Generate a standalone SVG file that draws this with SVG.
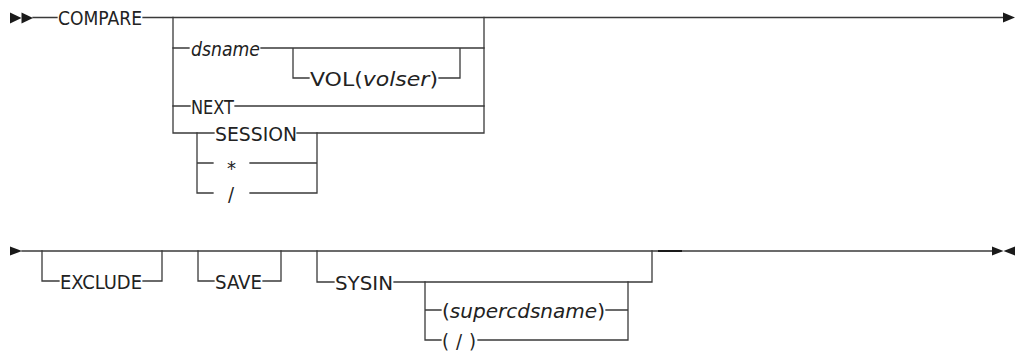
<svg xmlns="http://www.w3.org/2000/svg" width="1017" height="351" viewBox="0 0 1017 351">
<style>
.ln{fill:none;stroke:#3a3a3a;stroke-width:1.3;stroke-linecap:square}
.ar{fill:#1a1a1a;stroke:none}
.t{font-family:"DejaVu Sans Condensed","DejaVu Sans","Liberation Sans",sans-serif;font-stretch:condensed;font-size:20px;fill:#222}
.i{font-style:italic}
</style>
<rect width="1017" height="351" fill="#fff"/>
<g id="connectors">
<polygon class="ar" points="10,12.5 21.5,18 10,23.5"/>
<polygon class="ar" points="21.5,12.5 33,18 21.5,23.5"/>
<path class="ln" d="M33,17.5H57 M143,17.5H1003"/>
<polygon class="ar" points="1003,12.5 1015,17.5 1003,22.5"/>
<path class="ln" d="M173,17.5V133 H214 M297,133H484 V17.5"/>
<path class="ln" d="M173,48H189 M261,48H484 M293,48V78H309 M439,78H460V48"/>
<path class="ln" d="M173,106H190 M235,106H484"/>
<path class="ln" d="M197,133V193 M197,163H213 M250,163H317 M197,193H213 M250,193H317 M317,133V193"/>
<polygon class="ar" points="10,246.5 22,251 10,255.5"/>
<path class="ln" d="M22,251H993"/>
<path class="ln" d="M42,251V281H59 M143,281H162V251"/>
<path class="ln" d="M198,251V281H214 M263,281H281V251"/>
<path class="ln" d="M317,251V282H334 M394,282H652V251"/>
<path class="ln" d="M425,282V340 M425,310H441 M606,310H628 M425,340H441 M478,340H628 M628,282V340"/>
<path d="M658,251H682" stroke="#111" stroke-width="1.8"/>
<polygon class="ar" points="992,246.5 1003.5,251 992,255.5"/>
<polygon class="ar" points="1015,246.5 1003.5,251 1015,255.5"/>
</g>
<g id="n-compare"><text class="t" x="58" y="25" textLength="84" lengthAdjust="spacingAndGlyphs">COMPARE</text></g>
<g id="n-dsname"><text class="t i" x="191" y="55.5" textLength="69" lengthAdjust="spacingAndGlyphs">dsname</text></g>
<g id="n-vol"><text class="t" x="310" y="85.5" textLength="128" lengthAdjust="spacingAndGlyphs">VOL(<tspan class="i">volser</tspan>)</text></g>
<g id="n-next"><text class="t" x="191" y="113.5" textLength="43" lengthAdjust="spacingAndGlyphs">NEXT</text></g>
<g id="n-session"><text class="t" x="215" y="140.5" textLength="82" lengthAdjust="spacingAndGlyphs">SESSION</text></g>
<g id="n-star"><text class="t" x="227" y="175">*</text></g>
<g id="n-slash"><text class="t" x="228" y="200.5">/</text></g>
<g id="n-exclude"><text class="t" x="60" y="288.5" textLength="82" lengthAdjust="spacingAndGlyphs">EXCLUDE</text></g>
<g id="n-save"><text class="t" x="215" y="288.5" textLength="47" lengthAdjust="spacingAndGlyphs">SAVE</text></g>
<g id="n-sysin"><text class="t" x="335" y="289.5" textLength="58" lengthAdjust="spacingAndGlyphs">SYSIN</text></g>
<g id="n-supercdsname"><text class="t" x="442" y="317.5" textLength="163" lengthAdjust="spacingAndGlyphs">(<tspan class="i">supercdsname</tspan>)</text></g>
<g id="n-slashparen"><text class="t" x="442" y="347.5" textLength="34" lengthAdjust="spacing">(/)</text></g>
</svg>
